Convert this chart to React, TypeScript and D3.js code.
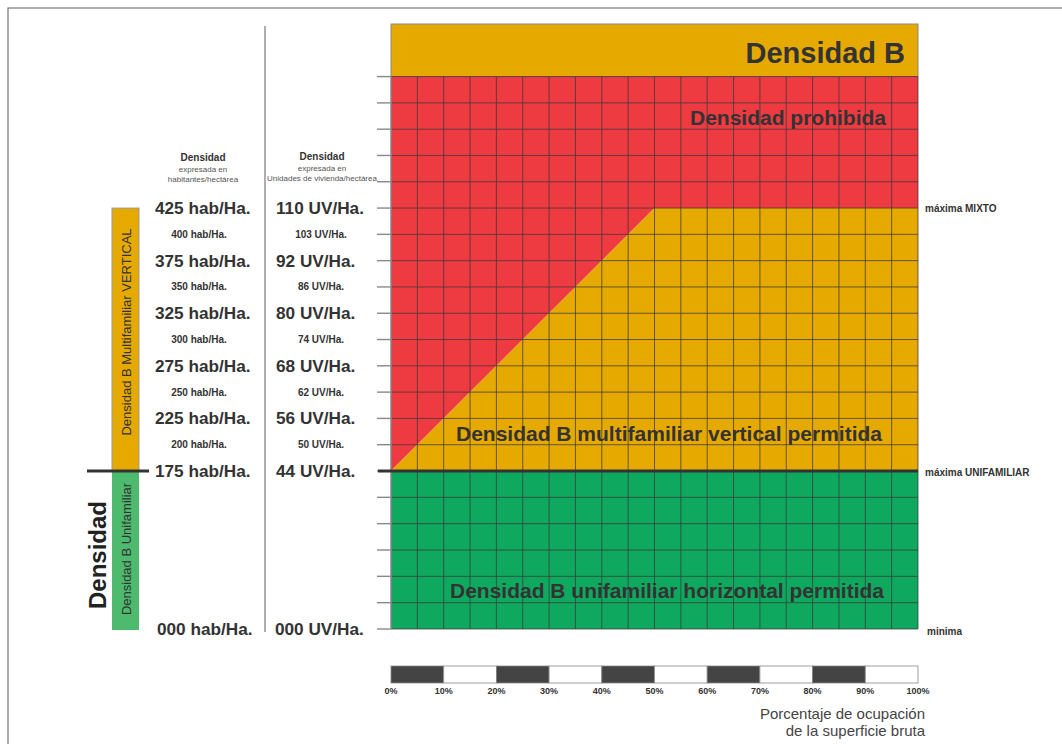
import React from "react";
import * as d3 from "d3";

// ---- data ----
const habLevels = [425, 400, 375, 350, 325, 300, 275, 250, 225, 200, 175];
const habLabels = ["425 hab/Ha.", "400 hab/Ha.", "375 hab/Ha.", "350 hab/Ha.", "325 hab/Ha.", "300 hab/Ha.", "275 hab/Ha.", "250 hab/Ha.", "225 hab/Ha.", "200 hab/Ha.", "175 hab/Ha."];
const uvLabels = ["110 UV/Ha.", "103 UV/Ha.", "92 UV/Ha.", "86 UV/Ha.", "80 UV/Ha.", "74 UV/Ha.", "68 UV/Ha.", "62 UV/Ha.", "56 UV/Ha.", "50 UV/Ha.", "44 UV/Ha."];
const majorFlags = [true, false, true, false, true, false, true, false, true, false, true];
const zeroHab = "000 hab/Ha.";
const zeroUV = "000 UV/Ha.";
const pctTicks = [0, 10, 20, 30, 40, 50, 60, 70, 80, 90, 100];
const colTicks = d3.range(0, 101, 5);
const upperRowLevels = d3.range(175, 551, 25);
const greenRowCount = 6;
const limitMixto = 425;
const limitUni = 175;
const gridTop = 550;
const bandTop = 600;
// boundary of prohibited zone: [percent, hab]
const boundary: [number, number][] = [[0, 175], [50, 425], [100, 425]];

const RED = "#EE3A41";
const YEL = "#E6A900";
const GRN = "#0FA85F";
const GRN2 = "#4DBA6E";
const TXT = "#333333";
const FONT = "'Liberation Sans', Arial, sans-serif";

export default function App() {
  const x = d3.scaleLinear().domain([0, 100]).range([391, 918]);
  const y = d3.scaleLinear().domain([0, 175, 600]).range([629, 471, 24]);
  const gy0 = y(0);
  const gyU = y(limitUni);
  const greenRows = d3.range(0, greenRowCount + 1).map(i => gyU + i * (gy0 - gyU) / greenRowCount);
  const upperRows = upperRowLevels.map(v => y(v));
  const allRowY = Array.from(new Set([...greenRows, ...upperRows]));

  const line = d3.line<[number, number]>().x(d => x(d[0])).y(d => y(d[1]));
  const yellowPoly: [number, number][] = [...boundary, [100, 175]];
  const redPoly: [number, number][] = [[0, 175], [0, gridTop], [100, gridTop], ...boundary.slice().reverse()];

  return (
    <svg width={1062} height={744} style={{ position: "absolute", left: 0, top: 0, background: "#fff" }} fontFamily={FONT}>
      {/* frame */}
      <rect x={8} y={8} width={1200} height={900} fill="none" stroke="#777" strokeWidth={1.2} />

      {/* top band */}
      <rect x={x(0)} y={y(bandTop)} width={x(100) - x(0)} height={y(gridTop) - y(bandTop)} fill={YEL} stroke="#888" strokeWidth={1} />
      <text x={905} y={63} textAnchor="end" fontSize={29} fontWeight="bold" fill={TXT}>Densidad B</text>

      {/* zones */}
      <rect x={x(0)} y={gyU} width={x(100) - x(0)} height={gy0 - gyU} fill={GRN} />
      <path d={line(redPoly) + "Z"} fill={RED} />
      <path d={line(yellowPoly) + "Z"} fill={YEL} />

      {/* grid */}
      {colTicks.map(c => (
        <line key={"c" + c} x1={x(c)} x2={x(c)} y1={y(gridTop)} y2={gy0} stroke="#3a3a3a" strokeOpacity={0.75} strokeWidth={1} />
      ))}
      {allRowY.map((ry, i) => (
        <line key={"r" + i} x1={x(0)} x2={x(100)} y1={ry} y2={ry} stroke="#3a3a3a" strokeOpacity={0.75} strokeWidth={1} />
      ))}
      {allRowY.map((ry, i) => (
        <line key={"t" + i} x1={377} x2={x(0)} y1={ry} y2={ry} stroke="#888" strokeWidth={1.4} />
      ))}
      <line x1={x(0)} x2={x(0)} y1={y(gridTop)} y2={gy0} stroke="#999" strokeWidth={1.2} />
      <line x1={378} x2={x(100)} y1={gyU} y2={gyU} stroke="#333" strokeWidth={3} />

      {/* zone labels */}
      <text x={886} y={125} textAnchor="end" fontSize={21} fontWeight="bold" fill={TXT}>Densidad prohibida</text>
      <text x={669} y={441} textAnchor="middle" fontSize={21} fontWeight="bold" fill={TXT}>Densidad B multifamiliar vertical permitida</text>
      <text x={667} y={598} textAnchor="middle" fontSize={21} fontWeight="bold" fill={TXT}>Densidad B unifamiliar horizontal permitida</text>

      {/* right labels */}
      <text x={925} y={212} fontSize={10} fontWeight="bold" fill={TXT}>máxima MIXTO</text>
      <text x={925} y={476} fontSize={10} fontWeight="bold" fill={TXT}>máxima UNIFAMILIAR</text>
      <text x={927} y={635} fontSize={10} fontWeight="bold" fill={TXT}>minima</text>

      {/* separator */}
      <line x1={265} x2={265} y1={26} y2={632} stroke="#777" strokeWidth={1.2} />

      {/* headers */}
      <text x={203} y={161} textAnchor="middle" fontSize={10} fontWeight="bold" fill={TXT}>Densidad</text>
      <text x={203} y={171.5} textAnchor="middle" fontSize={8} fill="#555">expresada en</text>
      <text x={203} y={182} textAnchor="middle" fontSize={8} fill="#555">habitantes/hectárea</text>
      <text x={322} y={160} textAnchor="middle" fontSize={10} fontWeight="bold" fill={TXT}>Densidad</text>
      <text x={322} y={170.5} textAnchor="middle" fontSize={8} fill="#555">expresada en</text>
      <text x={322} y={181} textAnchor="middle" fontSize={8} fill="#555">Unidades de vivienda/hectárea</text>

      {/* value labels */}
      {habLevels.map((h, i) => majorFlags[i] ? (
        <g key={"h" + h}>
          <text x={155} y={y(h) + 6} fontSize={17.2} fontWeight="bold" fill={TXT}>{habLabels[i]}</text>
          <text x={276} y={y(h) + 6} fontSize={17.2} fontWeight="bold" fill={TXT}>{uvLabels[i]}</text>
        </g>
      ) : (
        <g key={"h" + h}>
          <text x={199} y={y(h) + 3.5} textAnchor="middle" fontSize={10} fontWeight="bold" fill={TXT}>{habLabels[i]}</text>
          <text x={321} y={y(h) + 3.5} textAnchor="middle" fontSize={10} fontWeight="bold" fill={TXT}>{uvLabels[i]}</text>
        </g>
      ))}
      <text x={157} y={gy0 + 6} fontSize={17.2} fontWeight="bold" fill={TXT}>{zeroHab}</text>
      <text x={275} y={gy0 + 6} fontSize={17.2} fontWeight="bold" fill={TXT}>{zeroUV}</text>

      {/* left bars */}
      <rect x={112} y={y(limitMixto)} width={27} height={gyU - y(limitMixto)} fill={YEL} stroke="#999" strokeWidth={1} />
      <rect x={112} y={gyU} width={27} height={gy0 + 1 - gyU} fill={GRN2} />
      <line x1={87} x2={149} y1={gyU} y2={gyU} stroke="#333" strokeWidth={3} />
      <text transform={`translate(131,332) rotate(-90)`} textAnchor="middle" fontSize={13} fill={TXT}>Densidad B Multifamiliar VERTICAL</text>
      <text transform={`translate(131,549) rotate(-90)`} textAnchor="middle" fontSize={13} fill={TXT}>Densidad B Unifamiliar</text>
      <text transform={`translate(106,555) rotate(-90)`} textAnchor="middle" fontSize={24} fontWeight="bold" fill="#222">Densidad</text>

      {/* percentage scale */}
      {pctTicks.slice(0, -1).map((p, i) => (
        <rect key={"s" + p} x={x(p)} y={666} width={x(p + 10) - x(p)} height={17} fill={i % 2 === 0 ? "#444" : "#fff"} stroke="#888" strokeWidth={0.8} />
      ))}
      {pctTicks.map(p => (
        <text key={"p" + p} x={x(p)} y={694} textAnchor="middle" fontSize={9} fontWeight="bold" fill={TXT}>{p}%</text>
      ))}
      <text x={925} y={719} textAnchor="end" fontSize={15} fill="#444">Porcentaje de ocupación</text>
      <text x={925} y={736} textAnchor="end" fontSize={15} fill="#444">de la superficie bruta</text>
    </svg>
  );
}
